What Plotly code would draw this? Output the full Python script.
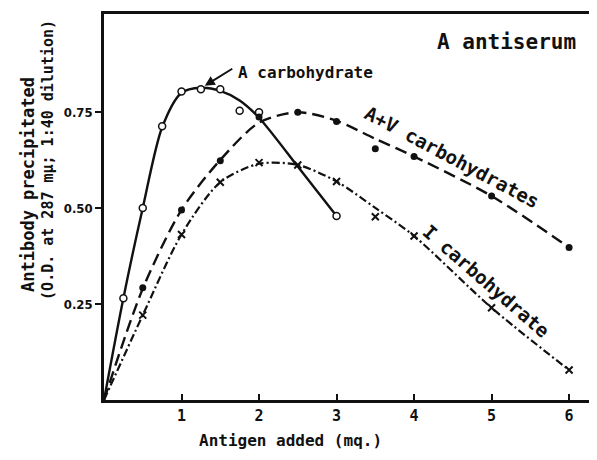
import plotly.graph_objects as go

# ---- data ----
# A carbohydrate (open circles, solid line)
a_x = [0, 0.25, 0.5, 0.75, 1.0, 1.25, 1.5, 1.75, 2.0, 3.0]
a_y = [0, 0.265, 0.50, 0.713, 0.803, 0.809, 0.809, 0.753, 0.749, 0.479]
a_curve_x = [0, 0.25, 0.5, 0.75, 1.0, 1.25, 1.5, 1.75, 2.0, 2.5, 3.0]
a_curve_y = [0, 0.265, 0.50, 0.71, 0.80, 0.813, 0.805, 0.78, 0.735, 0.608, 0.479]

# A+V carbohydrates (filled dots, dashed line)
av_x = [0, 0.5, 1.0, 1.5, 2.0, 2.5, 3.0, 3.5, 4.0, 5.0, 6.0]
av_y = [0, 0.292, 0.495, 0.623, 0.737, 0.749, 0.725, 0.654, 0.634, 0.531, 0.397]
av_curve_x = [0, 0.5, 1.0, 1.5, 2.0, 2.5, 3.0, 3.5, 4.0, 5.0, 6.0]
av_curve_y = [0, 0.29, 0.495, 0.625, 0.722, 0.749, 0.727, 0.68, 0.634, 0.531, 0.397]

# I carbohydrate (crosses, dash-dot line)
i_x = [0, 0.5, 1.0, 1.5, 2.0, 2.5, 3.0, 3.5, 4.0, 5.0, 6.0]
i_y = [0, 0.221, 0.431, 0.567, 0.618, 0.612, 0.569, 0.477, 0.427, 0.24, 0.078]
i_curve_x = [0, 0.5, 1.0, 1.5, 2.0, 2.5, 3.0, 3.5, 4.0, 5.0, 6.0]
i_curve_y = [0, 0.221, 0.431, 0.567, 0.615, 0.612, 0.569, 0.50, 0.427, 0.24, 0.078]

x_ticks = [1, 2, 3, 4, 5, 6]
x_tick_text = ["1", "2", "3", "4", "5", "6"]
y_ticks = [0.25, 0.50, 0.75]
y_tick_text = ["0.25", "0.50", "0.75"]

FONT = "DejaVu Sans Mono"
BLACK = "#111111"

fig = go.Figure()

fig.add_trace(go.Scatter(x=a_curve_x, y=a_curve_y, mode="lines",
                         line=dict(color=BLACK, width=2.4, shape="spline", smoothing=0.8),
                         hoverinfo="skip", showlegend=False))
fig.add_trace(go.Scatter(x=av_curve_x, y=av_curve_y, mode="lines",
                         line=dict(color=BLACK, width=2.4, shape="spline", smoothing=0.8,
                                   dash="12px,6px"),
                         hoverinfo="skip", showlegend=False))
fig.add_trace(go.Scatter(x=i_curve_x, y=i_curve_y, mode="lines",
                         line=dict(color=BLACK, width=2.2, shape="spline", smoothing=0.8,
                                   dash="8px,3px,2px,3px"),
                         hoverinfo="skip", showlegend=False))

fig.add_trace(go.Scatter(x=a_x[1:], y=a_y[1:], mode="markers",
                         marker=dict(symbol="circle", size=7, color="white",
                                     line=dict(color=BLACK, width=1.5)),
                         name="A carbohydrate", showlegend=False))
fig.add_trace(go.Scatter(x=av_x[1:], y=av_y[1:], mode="markers",
                         marker=dict(symbol="circle", size=7, color=BLACK),
                         name="A+V carbohydrates", showlegend=False))
fig.add_trace(go.Scatter(x=i_x[1:], y=i_y[1:], mode="markers",
                         marker=dict(symbol="x-thin-open", size=7, color=BLACK,
                                     line=dict(color=BLACK, width=2)),
                         name="I carbohydrate", showlegend=False))

annotations = [
    dict(x=5.19, y=0.932, text="<b>A antiserum</b>", showarrow=False,
         xanchor="center", yanchor="middle",
         font=dict(family=FONT, size=21, color=BLACK)),
    dict(x=1.70, y=0.854, text="<b>A carbohydrate</b>", showarrow=False,
         xanchor="left", yanchor="middle",
         font=dict(family=FONT, size=16, color=BLACK)),
    dict(x=1.30, y=0.818, text="", showarrow=True, ax=29, ay=-18,
         arrowhead=2, arrowsize=1, arrowwidth=2, arrowcolor=BLACK, standoff=0),
    dict(x=4.49, y=0.633, text="<b>A+V carbohydrates</b>", showarrow=False,
         xanchor="center", yanchor="middle", textangle=28,
         font=dict(family=FONT, size=19, color=BLACK)),
    dict(x=4.93, y=0.309, text="<b>I carbohydrate</b>", showarrow=False,
         xanchor="center", yanchor="middle", textangle=41,
         font=dict(family=FONT, size=19, color=BLACK)),
    dict(x=0.379, y=0, xref="paper", yref="paper", yshift=-40,
         xanchor="center", yanchor="middle",
         text="<b>Antigen added (mq.)</b>", showarrow=False,
         font=dict(family=FONT, size=16, color=BLACK)),
    dict(x=0, y=0.557, xref="paper", yref="paper", xshift=-76,
         xanchor="center", yanchor="middle",
         text="<b>Antibody precipitated</b>", showarrow=False, textangle=-90,
         font=dict(family=FONT, size=17, color=BLACK)),
    dict(x=0, y=0.622, xref="paper", yref="paper", xshift=-56,
         xanchor="center", yanchor="middle",
         text="<b>(O.D. at 287 m\u03bc; 1:40 dilution)</b>", showarrow=False, textangle=-90,
         font=dict(family=FONT, size=15, color=BLACK)),
]

# page body has an 8px margin: shrink the figure so it fills the 597x460 window
fig.update_layout(
    width=589, height=452,
    margin=dict(l=96, r=0, t=6, b=60),
    paper_bgcolor="white", plot_bgcolor="white",
    annotations=annotations,
    xaxis=dict(range=[0, 6.36], tickvals=x_ticks,
               ticktext=["<b>%s</b>" % t for t in x_tick_text],
               ticks="inside", ticklen=6,
               tickwidth=2, tickcolor=BLACK, showline=True, linecolor=BLACK,
               linewidth=2.5, mirror=True, showgrid=False, zeroline=False,
               tickfont=dict(family=FONT, size=15, color=BLACK)),
    yaxis=dict(range=[0, 1.005], tickvals=y_ticks,
               ticktext=["<b>%s</b>" % t for t in y_tick_text],
               ticks="outside", ticklen=6, tickwidth=2, tickcolor=BLACK,
               showline=True, linecolor=BLACK, linewidth=2.5, showgrid=False,
               zeroline=False,
               tickfont=dict(family="DejaVu Sans Condensed", size=13, color=BLACK)),
)

fig.write_html("out.html")
